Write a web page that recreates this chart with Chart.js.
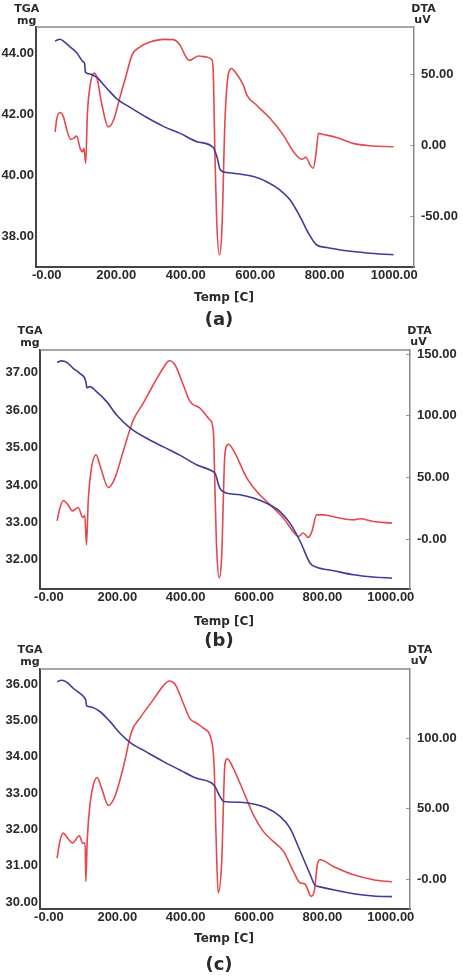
<!DOCTYPE html>
<html>
<head>
<meta charset="utf-8">
<script src="https://cdn.jsdelivr.net/npm/chart.js@4.4.1/dist/chart.umd.min.js"></script>
<style>
  html, body { margin: 0; padding: 0; background: #fff; }
  body { width: 463px; height: 980px; position: relative; overflow: hidden; }
  canvas { position: absolute; left: 0; }
</style>
</head>
<body>
<canvas id="chart-a" width="463" height="330" style="top:0px"></canvas>
<canvas id="chart-b" width="463" height="330" style="top:320px"></canvas>
<canvas id="chart-c" width="463" height="340" style="top:640px"></canvas>
<script>
// x axis (temperature) ticks, shared by the three panels
const tempTicks = [0, 200, 400, 600, 800, 1000]
const tempTickLabels = ['-0.00', '200.00', '400.00', '600.00', '800.00', '1000.00']

// (a)
const tgaTempA = [24, 38, 48, 67, 86, 105, 109, 111, 125, 144, 173, 201, 240, 288, 336, 384, 432, 479, 490, 499, 513, 518, 556, 595, 633, 671, 700, 729, 753, 777, 806, 863, 921, 998]
const tgaMassA = [44.39, 44.45, 44.39, 44.2, 44.01, 43.71, 43.65, 43.38, 43.31, 43.2, 42.84, 42.51, 42.22, 41.89, 41.6, 41.37, 41.1, 40.91, 40.6, 40.19, 40.1, 40.09, 40.04, 39.96, 39.79, 39.52, 39.2, 38.65, 38.11, 37.72, 37.64, 37.53, 37.46, 37.4]
const dtaTempA = [24, 29, 38, 48, 58, 69, 77, 86, 96, 103, 107, 112, 117, 125, 136, 144, 158, 177, 192, 211, 230, 245, 268, 297, 336, 364, 384, 398, 410, 422, 436, 460, 475, 479, 484, 489, 497, 504, 513, 523, 532, 542, 566, 576, 604, 643, 681, 710, 734, 746, 758, 767, 775, 782, 796, 834, 882, 930, 998]
const dtaValA = [9.5, 18.9, 23.1, 20.0, 10.7, 4.2, 4.9, 6.5, -2.1, -4.5, -2.1, -12.6, 22.4, 42.3, 50.9, 48.1, 29.4, 13.0, 17.7, 34.1, 50.5, 63.3, 69.1, 72.6, 74.5, 74.3, 70.3, 63.3, 59.8, 61.0, 62.8, 62.1, 60.3, 52.8, -5.6, -52.4, -76.9, -60, 18, 50.5, 54.0, 51.6, 42.3, 35.3, 28.2, 18.9, 7.2, -4.5, -9.8, -8.4, -13.8, -16.1, -5.6, 8.4, 7.7, 5.6, 1.4, -0.3, -1.0]
const tgaTicksA = [38, 40, 42, 44]
const tgaTickLabelsA = ['38.00', '40.00', '42.00', '44.00']
const dtaTicksA = [-50, 0, 50]
const dtaTickLabelsA = ['-50.00', '0.00', '50.00']

// (b)
const tgaTempB = [24, 37, 52, 71, 91, 105, 109, 111, 120, 140, 169, 198, 237, 286, 335, 383, 432, 476, 486, 500, 515, 520, 559, 598, 637, 676, 705, 735, 764, 783, 832, 891, 949, 1003]
const tgaMassB = [37.28, 37.32, 37.28, 37.12, 36.98, 36.85, 36.72, 36.6, 36.63, 36.49, 36.23, 35.87, 35.53, 35.25, 35.02, 34.8, 34.54, 34.38, 34.31, 33.91, 33.8, 33.78, 33.74, 33.65, 33.51, 33.29, 32.98, 32.49, 31.91, 31.8, 31.71, 31.6, 31.54, 31.51]
const dtaTempB = [24, 32, 42, 56, 69, 86, 99, 105, 110, 115, 123, 138, 149, 174, 193, 217, 247, 276, 305, 335, 352, 369, 393, 413, 442, 471, 481, 486, 491, 498, 505, 515, 525, 539, 579, 608, 647, 686, 720, 730, 744, 759, 769, 783, 803, 842, 891, 910, 949, 1003]
const dtaValB = [14.8, 25.1, 31.3, 27.8, 22.9, 25.6, 17.5, 19.1, -4.6, 30.5, 54.8, 68.4, 60.2, 41.8, 49.5, 71.0, 96.7, 110.3, 125.1, 139.1, 144.8, 141.3, 125.1, 111.6, 106.2, 96.7, 87.3, 35.9, -10.1, -31.6, -15.4, 70, 77.0, 72.4, 49.5, 38.6, 27.8, 17.0, 4.1, 2.1, 4.9, 1.3, 6.2, 19.7, 19.7, 17.5, 15.6, 16.5, 14.3, 13.0]
const tgaTicksB = [32, 33, 34, 35, 36, 37]
const tgaTickLabelsB = ['32.00', '33.00', '34.00', '35.00', '36.00', '37.00']
const dtaTicksB = [0, 50, 100, 150]
const dtaTickLabelsB = ['-0.00', '50.00', '100.00', '150.00']

// (c)
const tgaTempC = [24, 37, 52, 71, 91, 106, 108, 110, 120, 149, 179, 208, 237, 286, 335, 383, 432, 476, 486, 500, 512, 559, 598, 637, 676, 705, 735, 764, 778, 793, 842, 891, 949, 1003]
const tgaMassC = [36.07, 36.11, 36.06, 35.89, 35.75, 35.6, 35.55, 35.41, 35.38, 35.25, 34.97, 34.65, 34.4, 34.13, 33.87, 33.64, 33.41, 33.28, 33.18, 32.91, 32.77, 32.75, 32.7, 32.59, 32.36, 32.04, 31.4, 30.76, 30.47, 30.42, 30.32, 30.23, 30.17, 30.15]
const dtaTempC = [24, 32, 42, 56, 69, 89, 99, 106, 108, 112, 120, 130, 141, 154, 174, 193, 217, 242, 266, 305, 335, 352, 369, 393, 413, 432, 452, 476, 483, 489, 495, 505, 515, 522, 539, 569, 598, 627, 656, 686, 715, 735, 749, 759, 766, 776, 785, 793, 832, 891, 949, 1003]
const dtaValC = [14.9, 26.7, 32.6, 28.6, 25.5, 30.7, 25.5, 25.5, -1.7, 26.7, 52.7, 66.9, 72.1, 64.5, 52.2, 58.6, 78.7, 104.7, 114.2, 127.2, 137.3, 140.6, 138.3, 124.8, 113.7, 110.6, 107.1, 97.6, 81.1, 29.1, -9.9, 10.1, 82, 85.3, 78.7, 62.1, 45.6, 33.8, 26.7, 19.6, 5.4, -2.8, -3.5, -8.8, -12.3, -8.8, 10.1, 13.7, 8.9, 3.0, -0.5, -2.1]
const tgaTicksC = [30, 31, 32, 33, 34, 35, 36]
const tgaTickLabelsC = ['30.00', '31.00', '32.00', '33.00', '34.00', '35.00', '36.00']
const dtaTicksC = [0, 50, 100]
const dtaTickLabelsC = ['-0.00', '50.00', '100.00']

const BLUE = '#3d3d99'
const RED = '#e5484d'
const INK = '#2a2a2a'
const tickFont = { family: "'Liberation Sans', Arial, sans-serif", size: 13, weight: 'bold' }
const X_AXIS_H = 24

// draws the top edge of the frame and the loose labels (TGA / mg, DTA / uV, Temp [C], (a))
const panelText = {
  id: 'panelText',
  afterDraw(chart, args, opts) {
    const { ctx, chartArea } = chart
    ctx.save()
    ctx.strokeStyle = '#8a8a8a'
    ctx.lineWidth = 1.5
    ctx.beginPath()
    ctx.moveTo(chartArea.left, chartArea.top)
    ctx.lineTo(chartArea.right, chartArea.top)
    ctx.stroke()
    ctx.fillStyle = INK
    ctx.textAlign = 'center'
    ctx.textBaseline = 'middle'
    opts.texts.forEach((t) => {
      ctx.font = t.font
      ctx.fillText(t.text, t.x, t.y)
    })
    ctx.restore()
  },
}

function fixedTicks(values) {
  return (axis) => {
    axis.ticks = values.map((v) => ({ value: v }))
  }
}

function makePanel(id, p) {
  const canvas = document.getElementById(id)
  const H = canvas.height
  const small = "bold 11px 'DejaVu Sans', sans-serif"
  const mid = "bold 12px 'DejaVu Sans', sans-serif"
  const big = "bold 18px 'DejaVu Sans', sans-serif"
  return new Chart(canvas, {
    type: 'line',
    data: {
      datasets: [
        {
          label: 'TGA',
          data: p.tgaTemp.map((t, i) => ({ x: t, y: p.tgaMass[i] })),
          yAxisID: 'yL',
          borderColor: BLUE,
          borderWidth: 1.6,
          pointRadius: 0,
          cubicInterpolationMode: 'monotone',
        },
        {
          label: 'DTA',
          data: p.dtaTemp.map((t, i) => ({ x: t, y: p.dtaVal[i] })),
          yAxisID: 'yR',
          borderColor: RED,
          borderWidth: 1.6,
          pointRadius: 0,
          cubicInterpolationMode: 'monotone',
        },
      ],
    },
    options: {
      responsive: false,
      animation: false,
      layout: {
        padding: { top: p.box.top, left: 0, right: 0, bottom: H - p.box.bottom - X_AXIS_H },
      },
      plugins: {
        legend: { display: false },
        tooltip: { enabled: false },
        panelText: {
          texts: [
            { text: 'TGA', x: p.tga[0], y: p.tga[1], font: small },
            { text: 'mg', x: p.tga[0], y: p.tga[1] + 12, font: small },
            { text: 'DTA', x: p.dta[0], y: p.dta[1], font: small },
            { text: 'uV', x: p.dta[0] - 1, y: p.dta[1] + 11, font: small },
            { text: 'Temp [C]', x: 224, y: p.tempY, font: mid },
            { text: p.name, x: 219, y: p.nameY, font: big },
          ],
        },
      },
      scales: {
        x: {
          type: 'linear',
          min: p.xMin,
          max: p.xMax,
          afterBuildTicks: fixedTicks(tempTicks),
          afterFit: (axis) => { axis.height = X_AXIS_H },
          grid: { display: false, drawTicks: false },
          border: { color: '#444', width: 2 },
          ticks: {
            font: tickFont, color: INK, padding: 1, maxRotation: 0, autoSkip: false,
            callback: (v, i) => tempTickLabels[i],
          },
        },
        yL: {
          position: 'left',
          min: p.tgaMin,
          max: p.tgaMax,
          afterBuildTicks: fixedTicks(p.tgaTicks),
          afterFit: (axis) => { axis.width = p.box.left },
          grid: { display: false, drawTicks: false },
          border: { color: '#444', width: 2 },
          ticks: {
            font: tickFont, color: INK, padding: 2, autoSkip: false,
            callback: (v, i) => p.tgaTickLabels[i],
          },
        },
        yR: {
          position: 'right',
          min: p.dtaMin,
          max: p.dtaMax,
          afterBuildTicks: fixedTicks(p.dtaTicks),
          afterFit: (axis) => { axis.width = 463 - p.box.right },
          grid: { display: true, drawOnChartArea: false, drawTicks: true, tickLength: -4, color: '#999' },
          border: { color: '#8a8a8a', width: 1.5 },
          ticks: {
            font: tickFont, color: INK, padding: 11, autoSkip: false,
            callback: (v, i) => p.dtaTickLabels[i],
          },
        },
      },
    },
    plugins: [panelText],
  })
}

makePanel('chart-a', {
  name: '(a)',
  box: { left: 36, top: 27, right: 414, bottom: 267 },
  xMin: -31, xMax: 1057,
  tgaMin: 37.0, tgaMax: 44.85, dtaMin: -85.5, dtaMax: 83.2,
  tgaTemp: tgaTempA, tgaMass: tgaMassA, dtaTemp: dtaTempA, dtaVal: dtaValA,
  tgaTicks: tgaTicksA, tgaTickLabels: tgaTickLabelsA, dtaTicks: dtaTicksA, dtaTickLabels: dtaTickLabelsA,
  tga: [26.7, 9.5], dta: [423.5, 9.5], tempY: 298, nameY: 320,
})

makePanel('chart-b', {
  name: '(b)',
  box: { left: 40, top: 30, right: 410, bottom: 269 },
  xMin: -26, xMax: 1056,
  tgaMin: 31.22, tgaMax: 37.61, dtaMin: -40.5, dtaMax: 153.5,
  tgaTemp: tgaTempB, tgaMass: tgaMassB, dtaTemp: dtaTempB, dtaVal: dtaValB,
  tgaTicks: tgaTicksB, tgaTickLabels: tgaTickLabelsB, dtaTicks: dtaTicksB, dtaTickLabels: dtaTickLabelsB,
  tga: [30, 11.5], dta: [419.5, 11.5], tempY: 301.5, nameY: 321.5,
})

makePanel('chart-c', {
  name: '(c)',
  box: { left: 40, top: 29, right: 410, bottom: 269 },
  xMin: -26, xMax: 1056,
  tgaMin: 29.81, tgaMax: 36.42, dtaMin: -21.3, dtaMax: 149.1,
  tgaTemp: tgaTempC, tgaMass: tgaMassC, dtaTemp: dtaTempC, dtaVal: dtaValC,
  tgaTicks: tgaTicksC, tgaTickLabels: tgaTickLabelsC, dtaTicks: dtaTicksC, dtaTickLabels: dtaTickLabelsC,
  tga: [30, 10.5], dta: [420, 10.5], tempY: 299, nameY: 325,
})
</script>
</body>
</html>
